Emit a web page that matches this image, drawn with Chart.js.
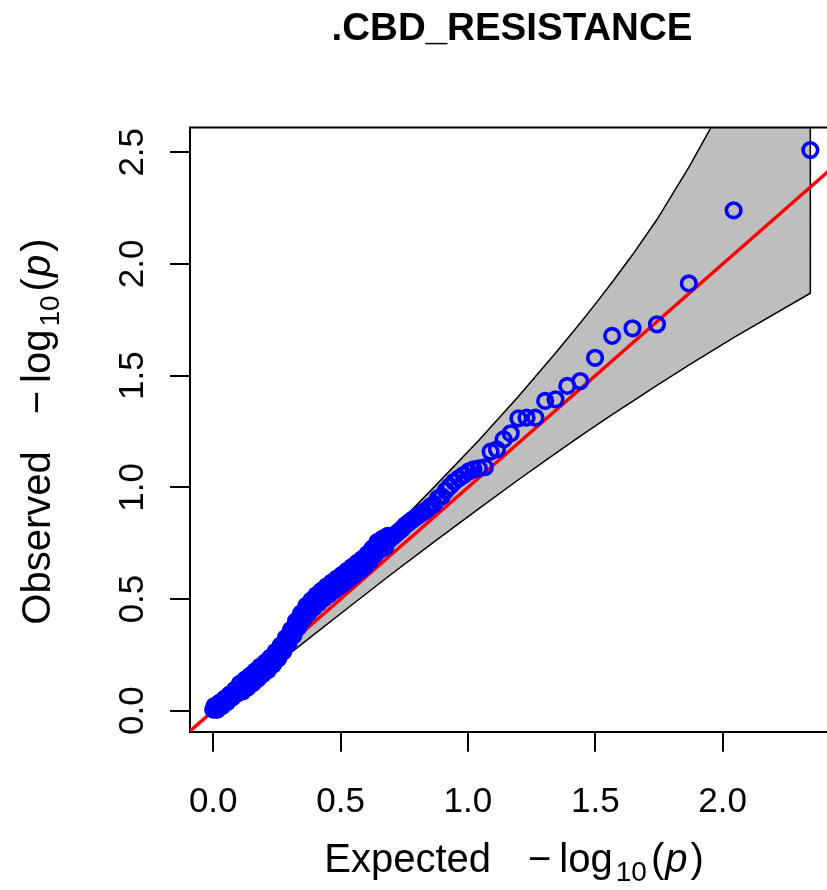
<!DOCTYPE html>
<html>
<head>
<meta charset="utf-8">
<script src="https://cdn.jsdelivr.net/npm/chart.js@4.4.1/dist/chart.umd.min.js"></script>
<style>
html,body{margin:0;padding:0;background:#fff;}
canvas{display:block;}
</style>
</head>
<body>
<canvas id="c" width="827" height="890"></canvas>
<script>
// ---------------- data ----------------
const chartTitle = '.CBD_RESISTANCE';
const xTitleWord = 'Expected';
const yTitleWord = 'Observed';

const xTicks = [0, 0.5, 1, 1.5, 2];
const xTickLabels = ['0.0', '0.5', '1.0', '1.5', '2.0'];
const yTicks = [0, 0.5, 1, 1.5, 2, 2.5];
const yTickLabels = ['0.0', '0.5', '1.0', '1.5', '2.0', '2.5'];

// expected -log10(p) of the observed points
const obsX = [2.344, 2.043, 1.867, 1.742, 1.646, 1.566, 1.499, 1.441, 1.390, 1.344,
  1.303, 1.265, 1.230, 1.198, 1.168, 1.140, 1.114, 1.089, 1.066, 1.043,
  1.022, 1.002, 0.983, 0.964, 0.946, 0.929, 0.913, 0.897, 0.882, 0.867,
  0.853, 0.839, 0.826, 0.813, 0.800, 0.788, 0.776, 0.765, 0.753, 0.742,
  0.732, 0.721, 0.711, 0.701, 0.691,
  0.685, 0.68, 0.675, 0.67, 0.665, 0.66, 0.655, 0.65, 0.645, 0.64,
  0.635, 0.63, 0.625, 0.62, 0.615, 0.61, 0.605, 0.60, 0.595, 0.59,
  0.585, 0.58, 0.575, 0.57, 0.565, 0.56, 0.555, 0.55, 0.545, 0.54,
  0.535, 0.53, 0.525, 0.52, 0.515, 0.51, 0.505, 0.50, 0.495, 0.49,
  0.485, 0.48, 0.475, 0.47, 0.465, 0.46, 0.455, 0.45, 0.445, 0.44,
  0.435, 0.43, 0.425, 0.42, 0.415, 0.41, 0.405, 0.40, 0.395, 0.39,
  0.385, 0.38, 0.375, 0.37, 0.365, 0.36, 0.355, 0.35, 0.345, 0.34,
  0.335, 0.33, 0.325, 0.32, 0.315, 0.31, 0.305, 0.30, 0.295, 0.29,
  0.285, 0.28, 0.275, 0.27, 0.265, 0.26, 0.255, 0.25, 0.245, 0.24,
  0.235, 0.23, 0.225, 0.22, 0.215, 0.21, 0.205, 0.20, 0.195, 0.19,
  0.185, 0.18, 0.175, 0.17, 0.165, 0.16, 0.155, 0.15, 0.145, 0.14,
  0.135, 0.13, 0.125, 0.12, 0.115, 0.11, 0.105, 0.10, 0.095, 0.09,
  0.085, 0.08, 0.075, 0.07, 0.065, 0.06, 0.055, 0.05, 0.045, 0.04,
  0.035, 0.03, 0.025, 0.02, 0.015, 0.01, 0.005, 0.00];
// observed -log10(p)
const obsY = [2.510, 2.240, 1.913, 1.730, 1.712, 1.678, 1.580, 1.476, 1.454, 1.394,
  1.387, 1.312, 1.312, 1.309, 1.242, 1.215, 1.170, 1.160, 1.090, 1.085,
  1.080, 1.070, 1.055, 1.040, 1.025, 1.005, 0.985, 0.960, 0.950, 0.925,
  0.915, 0.900, 0.890, 0.880, 0.870, 0.860, 0.850, 0.840, 0.830, 0.815,
  0.805, 0.795, 0.785, 0.775, 0.765,
  0.783, 0.756, 0.731, 0.750, 0.770, 0.746, 0.721, 0.740, 0.756, 0.728,
  0.698, 0.712, 0.727, 0.697, 0.669, 0.685, 0.701, 0.673, 0.646, 0.662,
  0.679, 0.652, 0.626, 0.644, 0.662, 0.635, 0.609, 0.626, 0.644, 0.617,
  0.591, 0.608, 0.626, 0.600, 0.573, 0.590, 0.608, 0.582, 0.556, 0.573,
  0.591, 0.565, 0.539, 0.556, 0.574, 0.547, 0.521, 0.538, 0.556, 0.530,
  0.503, 0.520, 0.537, 0.510, 0.483, 0.500, 0.517, 0.490, 0.462, 0.478,
  0.494, 0.465, 0.437, 0.453, 0.469, 0.440, 0.410, 0.423, 0.436, 0.405,
  0.375, 0.388, 0.401, 0.370, 0.338, 0.350, 0.362, 0.330, 0.300, 0.313,
  0.326, 0.295, 0.265, 0.278, 0.292, 0.262, 0.233, 0.248, 0.264, 0.235,
  0.207, 0.222, 0.238, 0.210, 0.182, 0.198, 0.216, 0.190, 0.164, 0.181,
  0.198, 0.170, 0.143, 0.159, 0.177, 0.150, 0.123, 0.140, 0.157, 0.130,
  0.104, 0.121, 0.139, 0.112, 0.086, 0.103, 0.121, 0.094, 0.078, 0.085,
  0.093, 0.076, 0.059, 0.066, 0.073, 0.055, 0.039, 0.046, 0.054, 0.037,
  0.021, 0.028, 0.036, 0.020, 0.004, 0.012, 0.021, 0.005];

// 90% confidence band (vertices of the grey polygon)
const bandX     = [2.344, 2.043, 1.867, 1.742, 1.646, 1.566, 1.499, 1.441, 1.344, 1.198, 1.043, 0.867, 0.690, 0.531, 0.390, 0.265, 0.168, 0.077, 0.033, 0.012, 0.002];
const bandUpper = [3.634, 2.794, 2.432, 2.199, 2.041, 1.918, 1.819, 1.736, 1.601, 1.407, 1.211, 1.001, 0.794, 0.611, 0.451, 0.311, 0.202, 0.100, 0.047, 0.021, 0.006];
const bandLower = [1.869, 1.670, 1.547, 1.457, 1.385, 1.326, 1.274, 1.229, 1.152, 1.034, 0.905, 0.756, 0.603, 0.462, 0.336, 0.224, 0.138, 0.057, 0.020, 0.005, 0.000];

// y = x reference line end points
const refLine = [-0.3, 2.8];

// ---------------- build datasets ----------------
const pointsData = obsX.map((x, i) => ({x: x, y: obsY[i]}));
const upperPts = bandX.map((x, i) => ({x: x, y: bandUpper[i]})).reverse();
const lowerPts = bandX.map((x, i) => ({x: x, y: bandLower[i]}));
const polygon = upperPts.concat(lowerPts, [upperPts[0]]);
const refData = refLine.map(v => ({x: v, y: v}));

const FONT = '"Liberation Sans", Arial, Helvetica, sans-serif';

function drawMath(ctx, word, cx, base, rot) {
  const pieces = [
    {t: word, f: '40px ' + FONT},
    {gap: 37},
    {t: '\u2212', f: '40px ' + FONT},
    {gap: 8},
    {t: 'log', f: '40px ' + FONT},
    {gap: 3},
    {t: '10', f: '28px ' + FONT, dy: 9},
    {gap: 4},
    {t: '(', f: '40px ' + FONT},
    {gap: 1},
    {t: 'p', f: 'italic 40px ' + FONT},
    {gap: 3},
    {t: ')', f: '40px ' + FONT}
  ];
  let total = 0;
  pieces.forEach(p => {
    if (p.gap) { p.w = p.gap; } else { ctx.font = p.f; p.w = ctx.measureText(p.t).width; }
    total += p.w;
  });
  ctx.save();
  ctx.translate(cx, base);
  if (rot) ctx.rotate(rot);
  ctx.textAlign = 'left';
  ctx.textBaseline = 'alphabetic';
  let x = -total / 2;
  pieces.forEach(p => {
    if (!p.gap) { ctx.font = p.f; ctx.fillText(p.t, x, p.dy || 0); }
    x += p.w;
  });
  ctx.restore();
}

const decorations = {
  id: 'decorations',
  afterDraw(chart) {
    const ctx = chart.ctx;
    const a = chart.chartArea;
    const xs = chart.scales.x, ys = chart.scales.y;
    ctx.save();
    // top side of the box
    ctx.strokeStyle = '#000';
    ctx.lineWidth = 2;
    ctx.beginPath();
    ctx.moveTo(a.left - 1, a.top);
    ctx.lineTo(a.right, a.top);
    ctx.stroke();
    ctx.fillStyle = '#000';
    // tick labels
    ctx.font = '35px ' + FONT;
    ctx.textAlign = 'center';
    ctx.textBaseline = 'alphabetic';
    xTicks.forEach((v, i) => ctx.fillText(xTickLabels[i], xs.getPixelForValue(v), 812));
    yTicks.forEach((v, i) => {
      ctx.save();
      ctx.translate(143, ys.getPixelForValue(v));
      ctx.rotate(-Math.PI / 2);
      ctx.fillText(yTickLabels[i], 0, 0);
      ctx.restore();
    });
    // title
    ctx.font = 'bold 38.5px ' + FONT;
    ctx.fillText(chartTitle, 512, 40);
    // axis titles
    drawMath(ctx, xTitleWord, 514, 872, 0);
    drawMath(ctx, yTitleWord, 50, (a.top + a.bottom) / 2 + 2, -Math.PI / 2);
    ctx.restore();
  }
};

new Chart(document.getElementById('c'), {
  type: 'scatter',
  data: {
    datasets: [
      {
        data: pointsData,
        showLine: false,
        pointRadius: 7.3,
        pointHoverRadius: 7.3,
        borderWidth: 3.6,
        pointBorderWidth: 3.6,
        borderColor: '#0000ff',
        pointBorderColor: '#0000ff',
        backgroundColor: 'rgba(0,0,0,0)',
        pointBackgroundColor: 'rgba(0,0,0,0)'
      },
      {
        data: refData,
        showLine: true,
        borderColor: '#ff0000',
        borderWidth: 3.5,
        pointRadius: 0,
        fill: false,
        clip: 0
      },
      {
        data: polygon,
        showLine: true,
        borderColor: '#000000',
        borderWidth: 1.5,
        backgroundColor: '#bebebe',
        fill: 'shape',
        pointRadius: 0,
        clip: 0
      }
    ]
  },
  options: {
    responsive: false,
    animation: false,
    devicePixelRatio: 1,
    events: [],
    layout: {autoPadding: false, padding: {top: 127.5, left: 0, right: 0, bottom: 0}},
    plugins: {legend: {display: false}, tooltip: {enabled: false}, title: {display: false}},
    scales: {
      x: {
        type: 'linear', position: 'bottom', min: -0.0911, max: 2.4095,
        grid: {display: true, drawOnChartArea: false, drawTicks: true, tickLength: 20, color: '#000', lineWidth: 2},
        border: {display: true, color: '#000', width: 2},
        ticks: {display: false},
        afterBuildTicks: s => { s.ticks = xTicks.map(v => ({value: v})); },
        afterFit: s => { s.height = 158.3; }
      },
      y: {
        type: 'linear', position: 'left', min: -0.094, max: 2.611,
        grid: {display: true, drawOnChartArea: false, drawTicks: true, tickLength: 20, color: '#000', lineWidth: 2},
        border: {display: true, color: '#000', width: 2},
        ticks: {display: false},
        afterBuildTicks: s => { s.ticks = yTicks.map(v => ({value: v})); },
        afterFit: s => { s.width = 190; }
      }
    }
  },
  plugins: [decorations]
});
</script>
</body>
</html>
